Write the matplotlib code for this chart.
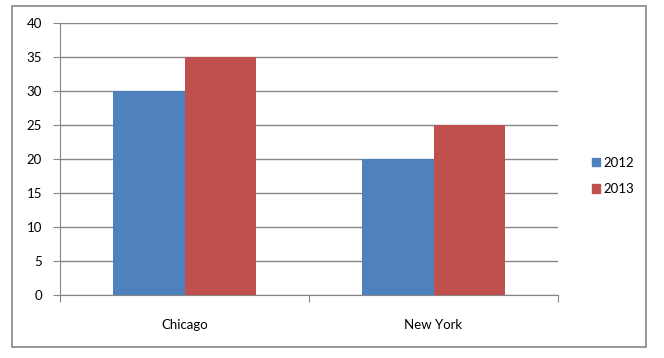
import matplotlib
matplotlib.use("Agg")
import matplotlib.pyplot as plt
import matplotlib.patches as mpatches
import numpy as np

categories = ["Chicago", "New York"]
series_names = ["2012", "2013"]
values_2012 = [30, 20]
values_2013 = [35, 25]
yticks = [0, 5, 10, 15, 20, 25, 30, 35, 40]

plt.rcParams['font.family'] = ['Lato', 'DejaVu Sans']

fig = plt.figure(figsize=(6.64, 3.58), dpi=100)
W, H = 664, 358
ax = fig.add_axes([60 / W, 1 - 295 / H, 498 / W, 272 / H])

x = np.arange(len(categories))
bw = 1 / 3.5
colors = ["#4F81BD", "#C0504D"]
ax.bar(x - bw / 2, values_2012, bw, color=colors[0], label=series_names[0], zorder=3)
ax.bar(x + bw / 2, values_2013, bw, color=colors[1], label=series_names[1], zorder=3)

ax.set_xlim(-0.5, len(categories) - 0.5)
ax.set_ylim(0, 40)
ax.set_yticks(yticks)
ax.yaxis.grid(True, color="#868686", linewidth=1.0, zorder=0)
ax.set_axisbelow(True)

gray = "#868686"
for s in ["top", "right"]:
    ax.spines[s].set_visible(False)
ax.spines["left"].set_color(gray)
ax.spines["bottom"].set_color(gray)

ax.tick_params(axis="y", length=5, color=gray, labelsize=9.5, pad=8, labelcolor="#000000")
ax.set_xticks(np.arange(len(categories) + 1) - 0.5)
ax.set_xticklabels([])
ax.tick_params(axis="x", which="major", length=5, color=gray)
ax.set_xticks(x, minor=True)
ax.set_xticklabels(categories, minor=True)
ax.tick_params(axis="x", which="minor", length=0, labelsize=9.5, pad=17)

handles = [mpatches.Patch(color=c) for c in colors]
fig.legend(handles, series_names, loc="center left",
           bbox_to_anchor=(580 / W, 1 - 176 / H), frameon=False,
           handlelength=0.6, handleheight=0.6, handletextpad=0.3,
           labelspacing=1.1, fontsize=9.5)

border = mpatches.Rectangle((12 / W, 1 - 347 / H), 634 / W, 341 / H,
                            transform=fig.transFigure, fill=False,
                            edgecolor=gray, linewidth=1.2)
fig.patches.append(border)

fig.savefig("out.png", dpi=100)
